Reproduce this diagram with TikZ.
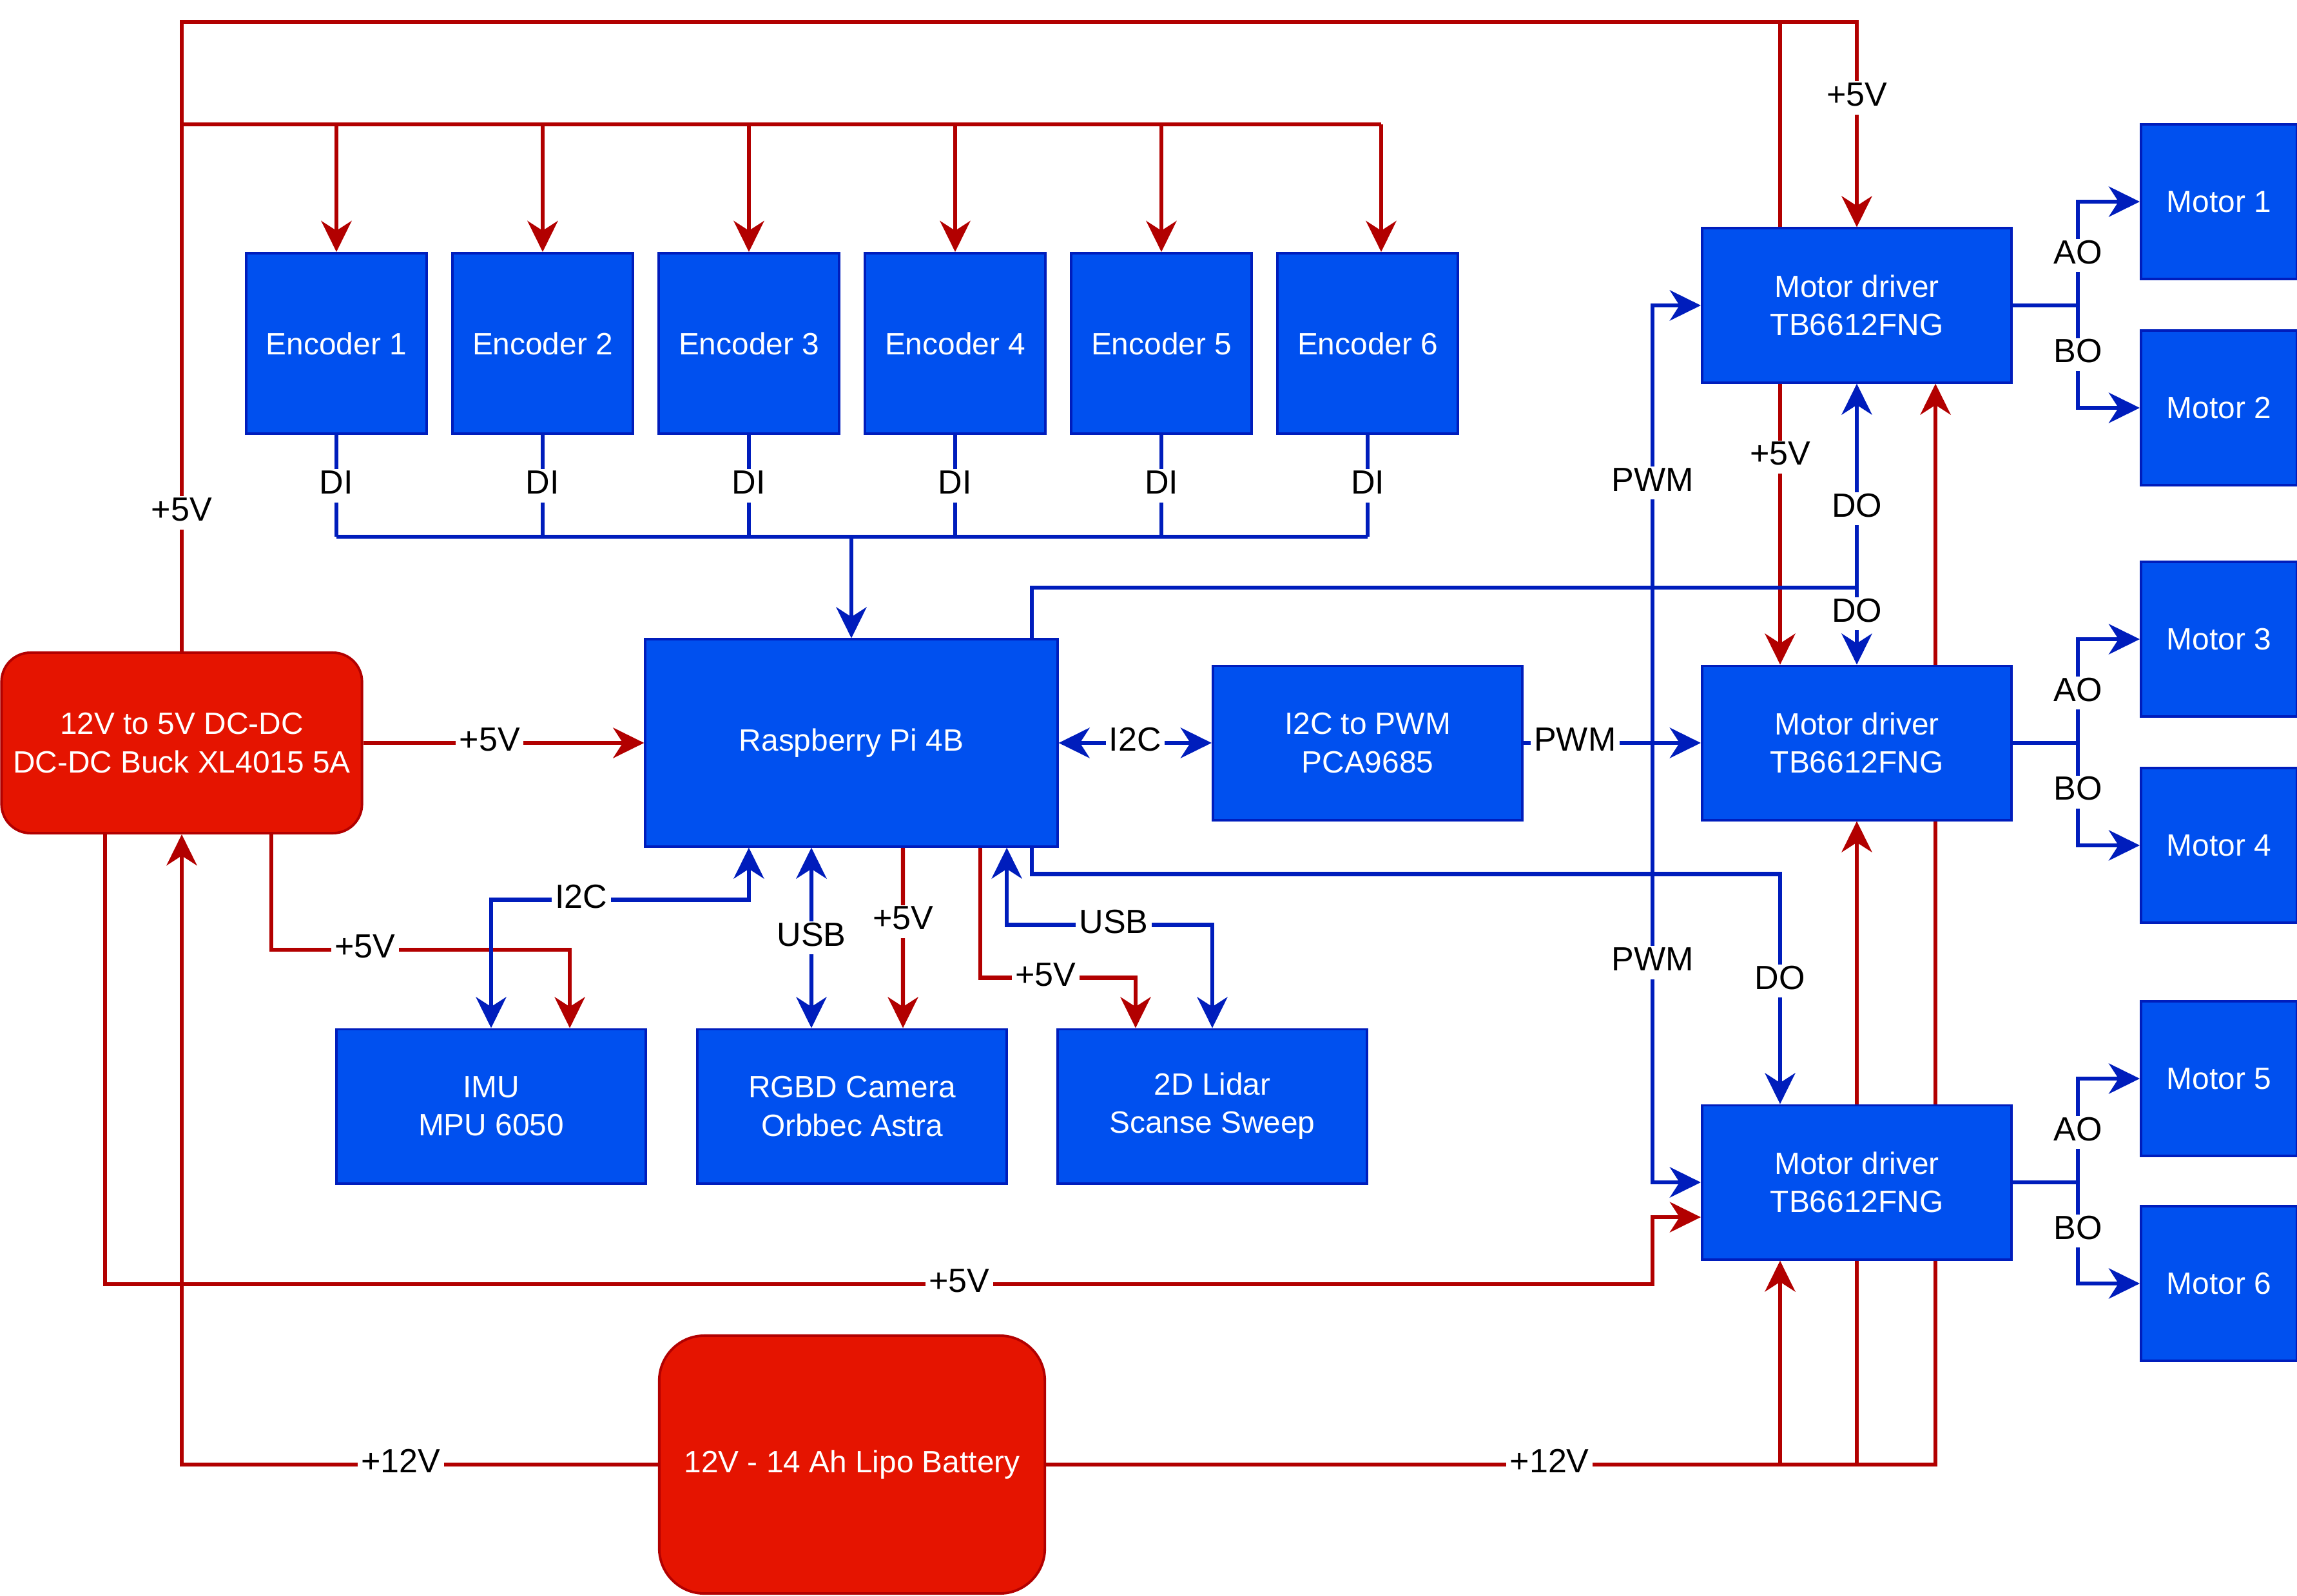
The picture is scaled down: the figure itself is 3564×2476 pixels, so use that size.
\documentclass[tikz,border=0pt]{standalone}
\usepackage{fontspec}
\setmainfont{Liberation Sans}
\usetikzlibrary{arrows.meta,backgrounds}
\definecolor{boxblue}{HTML}{0050EF}
\definecolor{lineblue}{HTML}{001DBC}
\definecolor{boxred}{HTML}{E51400}
\definecolor{linered}{HTML}{B20000}
\tikzset{
  blk/.style={draw=lineblue, fill=boxblue, line width=1.1pt, text=white, align=center, inner sep=2pt, font=\fontsize{13.6}{16.8}\selectfont},
  enc/.style={blk, minimum width=2.8cm, minimum height=2.8cm},
  wide/.style={blk, minimum width=4.8cm, minimum height=2.39cm},
  motor/.style={blk, minimum width=2.42cm, minimum height=2.4cm},
  psu/.style={blk, draw=linered, fill=boxred},
  pwr/.style={draw=linered, line width=1.8pt},
  sig/.style={draw=lineblue, line width=1.8pt},
  lbl/.style={fill=white, text=black, inner xsep=1.5pt, inner ysep=3.5pt, text height=0.74em, text depth=0.02em, font=\fontsize{14.8}{17}\selectfont},
  >={Stealth[length=0.48cm, width=0.47cm, inset=0.15cm]}
}
\begin{document}
\begin{tikzpicture}[x=0.01cm, y=-0.01cm]
  \useasboundingbox (0,0) rectangle (3564,2476);
  \node[enc] (enc1) at ( 522,533) {Encoder 1};
  \node[enc] (enc2) at ( 842,533) {Encoder 2};
  \node[enc] (enc3) at (1162,533) {Encoder 3};
  \node[enc] (enc4) at (1482,533) {Encoder 4};
  \node[enc] (enc5) at (1802,533) {Encoder 5};
  \node[enc] (enc6) at (2122,533) {Encoder 6};
  \node[blk, minimum width=6.39cm, minimum height=3.21cm] (rpi) at (1321,1153) {Raspberry Pi 4B};
  \node[wide] (pca) at (2122,1153) {I2C to PWM\\PCA9685};
  \node[wide] (md1) at (2881,474) {Motor driver\\TB6612FNG};
  \node[wide] (md2) at (2881,1153) {Motor driver\\TB6612FNG};
  \node[wide] (md3) at (2881,1835) {Motor driver\\TB6612FNG};
  \node[motor] (mot1) at (3443,313) {Motor 1};
  \node[motor] (mot2) at (3443,633) {Motor 2};
  \node[motor] (mot3) at (3443,992) {Motor 3};
  \node[motor] (mot4) at (3443,1312) {Motor 4};
  \node[motor] (mot5) at (3443,1674) {Motor 5};
  \node[motor] (mot6) at (3443,1992) {Motor 6};
  \node[psu, rounded corners=0.45cm, minimum width=5.59cm, minimum height=2.8cm] (dcdc) at (282,1153) {12V to 5V DC-DC\\DC-DC Buck XL4015 5A};
  \node[psu, rounded corners=0.7cm, minimum width=5.98cm, minimum height=4cm] (bat) at (1322,2273) {12V - 14 Ah Lipo Battery};
  \node[wide] (imu) at (762,1717) {IMU\\MPU 6050};
  \node[wide] (rgbd) at (1322,1717) {RGBD Camera\\Orbbec Astra};
  \node[wide] (lidar) at (1881,1717) {2D Lidar\\Scanse Sweep};
  \coordinate (encl) at (282,193);
  \coordinate (encr) at (2143,193);
  \coordinate (md2pw) at (2762,34);
  \coordinate (md3pw) at ([xshift=-1.19cm]md3.south);
  \coordinate (bus) at (1321,833);
  \coordinate (dojn) at (2881,912);
  \coordinate (pwmjn) at (2564,1153);
  \coordinate (o1) at ([xshift=1.01cm]md1.east);
  \coordinate (o2) at ([xshift=1.01cm]md2.east);
  \coordinate (o3) at ([xshift=1.01cm]md3.east);
  \begin{scope}[on background layer]
  \draw[pwr,->] (dcdc.north) -- node[lbl,pos=0.22]{+5V} (282,34) -- (2881,34) -- node[lbl,pos=0.37]{+5V} (md1.north);
  \draw[pwr] (encl) -- (encr);
  \draw[pwr,->] (enc1.north |- encl) -- (enc1.north);
  \draw[pwr,->] (enc2.north |- encl) -- (enc2.north);
  \draw[pwr,->] (enc3.north |- encl) -- (enc3.north);
  \draw[pwr,->] (enc4.north |- encl) -- (enc4.north);
  \draw[pwr,->] (enc5.north |- encl) -- (enc5.north);
  \draw[pwr,->] (encr) -- (encr |- enc6.north);
  \draw[pwr,->] (md2pw) -- node[lbl,pos=0.677]{+5V} (md2pw |- md2.north);
  \draw[pwr,->] (dcdc.east) -- node[lbl,pos=0.45]{+5V} (rpi.west);
  \draw[pwr,->] ([xshift=1.39cm]dcdc.south) -- ++(0,179) -| node[lbl,pos=0.157]{+5V} ([xshift=1.22cm]imu.north);
  \draw[pwr,->] ([xshift=-1.19cm]dcdc.south) |- node[lbl,pos=0.776]{+5V} (2564,1993) |- ([yshift=-0.54cm]md3.west);
  \draw[pwr,->] (bat.west) -| node[lbl,pos=0.27]{+12V} (dcdc.south);
  \draw[pwr,->] (bat.east) -| node[lbl,pos=0.283]{+12V} ([xshift=1.22cm]md1.south);
  \draw[pwr,->] (bat.east -| md2.south) -- (md2.south);
  \draw[pwr,->] (bat.east -| md3pw) -- (md3pw);
  \draw[pwr,->] ([xshift=0.8cm]rpi.south) -- node[lbl,pos=0.41]{+5V} ([xshift=0.79cm]rgbd.north);
  \draw[pwr,->] ([xshift=2cm]rpi.south) -- ++(0,202) -| node[lbl,pos=0.21]{+5V} ([xshift=-1.19cm]lidar.north);
  \draw[sig] (enc1.south) -- node[lbl]{DI} (enc1.south |- bus);
  \draw[sig] (enc2.south) -- node[lbl]{DI} (enc2.south |- bus);
  \draw[sig] (enc3.south) -- node[lbl]{DI} (enc3.south |- bus);
  \draw[sig] (enc4.south) -- node[lbl]{DI} (enc4.south |- bus);
  \draw[sig] (enc5.south) -- node[lbl]{DI} (enc5.south |- bus);
  \draw[sig] (enc6.south) -- node[lbl]{DI} (enc6.south |- bus);
  \draw[sig] (enc1.south |- bus) -- (enc6.south |- bus);
  \draw[sig,->] (bus) -- (rpi.north);
  \draw[sig,->] ([xshift=2.8cm]rpi.north) |- (dojn) -- node[lbl,pos=0.387]{DO} (md1.south);
  \draw[sig,->] (dojn) -- node[lbl,pos=0.34]{DO} (md2.north);
  \draw[sig,->] ([xshift=2.8cm]rpi.south) -- ++(0,41) -| node[lbl,pos=0.7325]{DO} ([xshift=-1.19cm]md3.north);
  \draw[sig,<->] (rpi.east) -- node[lbl]{I2C} (pca.west);
  \draw[sig,->] (pca.east) -- node[lbl,pos=0.29]{PWM} (md2.west);
  \draw[sig,->] (pwmjn) |- node[lbl,pos=0.297]{PWM} (md1.west);
  \draw[sig,->] (pwmjn) |- node[lbl,pos=0.25]{PWM} (md3.west);
  \draw[sig] (md1.east) -- (o1);
  \draw[sig,->] (o1) |- node[lbl,pos=0.24]{AO} (mot1.west);
  \draw[sig,->] (o1) |- node[lbl,pos=0.24]{BO} (mot2.west);
  \draw[sig] (md2.east) -- (o2);
  \draw[sig,->] (o2) |- node[lbl,pos=0.24]{AO} (mot3.west);
  \draw[sig,->] (o2) |- node[lbl,pos=0.24]{BO} (mot4.west);
  \draw[sig] (md3.east) -- (o3);
  \draw[sig,->] (o3) |- node[lbl,pos=0.24]{AO} (mot5.west);
  \draw[sig,->] (o3) |- node[lbl,pos=0.24]{BO} (mot6.west);
  \draw[sig,<->] ([xshift=-1.59cm]rpi.south) -- ++(0,81) -| node[lbl,pos=0.325]{I2C} (imu.north);
  \draw[sig,<->] ([xshift=-0.62cm]rpi.south) -- node[lbl]{USB} ([xshift=-0.63cm]rgbd.north);
  \draw[sig,<->] ([xshift=2.41cm]rpi.south) -- ++(0,120) -| node[lbl,pos=0.26]{USB} (lidar.north);
  \end{scope}
\end{tikzpicture}
\end{document}
